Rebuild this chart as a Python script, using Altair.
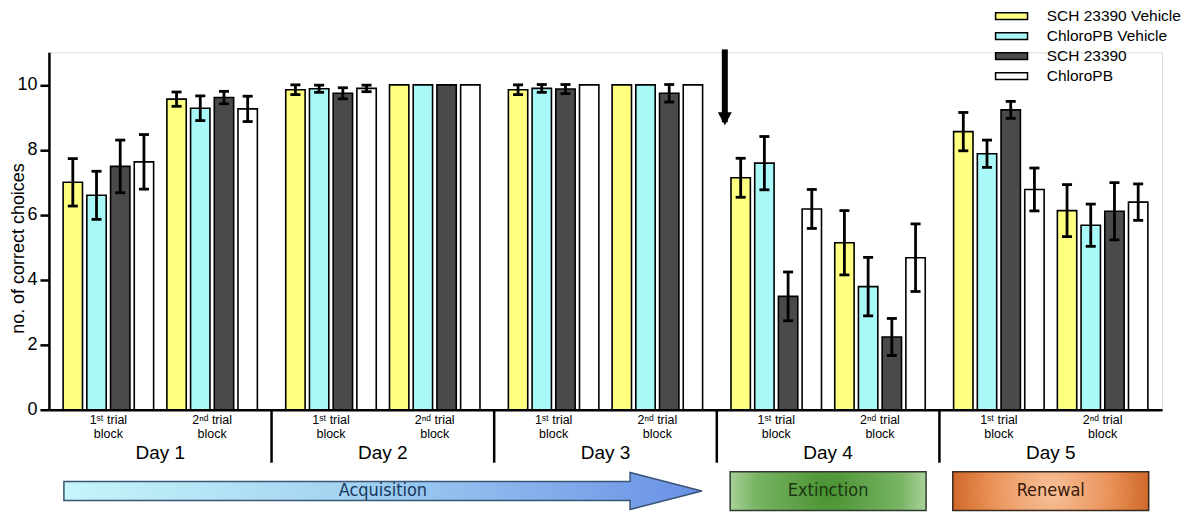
import altair as alt
import pandas as pd

# ---------------- data ----------------
days = ["Day 1", "Day 2", "Day 3", "Day 4", "Day 5"]
block_labels = ["1ˢᵗ trial\nblock", "2ⁿᵈ trial\nblock"]
treatments = ["SCH 23390 Vehicle", "ChloroPB Vehicle", "SCH 23390", "ChloroPB"]
colors = ["#ffff80", "#aaf9f9", "#4a4a4a", "#ffffff"]

# order: D1B1, D1B2, D2B1, D2B2, D3B1, D3B2, D4B1, D4B2, D5B1, D5B2
sch_veh_mean = [7.00, 9.56, 9.85, 10.0, 9.85, 10.0, 7.14, 5.14, 8.56, 6.13]
sch_veh_sem = [0.73, 0.22, 0.15, 0.0, 0.15, 0.0, 0.60, 0.99, 0.59, 0.80]
chl_veh_mean = [6.60, 9.28, 9.88, 10.0, 9.89, 10.0, 7.59, 3.79, 7.88, 5.68]
chl_veh_sem = [0.74, 0.38, 0.11, 0.0, 0.12, 0.0, 0.82, 0.90, 0.42, 0.65]
sch_mean = [7.49, 9.61, 9.74, 10.0, 9.87, 9.74, 3.49, 2.24, 9.23, 6.11]
sch_sem = [0.81, 0.19, 0.17, 0.0, 0.14, 0.27, 0.75, 0.57, 0.26, 0.88]
chl_mean = [7.63, 9.26, 9.89, 10.0, 10.0, 10.0, 6.18, 4.68, 6.78, 6.39]
chl_sem = [0.84, 0.39, 0.10, 0.0, 0.0, 0.0, 0.60, 1.04, 0.66, 0.56]

phases = ["Acquisition", "Extinction", "Renewal"]
phase_first_day = [0, 3, 4]
phase_last_day = [2, 3, 4]

y_title = "no. of correct choices"

# ---------------- layout constants (style) ----------------
BLOCK_OFF = 0.233
BAR_STEP = 0.1065
BAR_HALF = 0.0435
CAP_HALF = 0.0225
PHASE_PAD = 0.44
FONT = "Liberation Sans"
NARROW = "Liberation Sans Narrow, DejaVu Sans Condensed, sans-serif"

means = [sch_veh_mean, chl_veh_mean, sch_mean, chl_mean]
sems = [sch_veh_sem, chl_veh_sem, sch_sem, chl_sem]

rows = []
for d in range(len(days)):
    for b in range(2):
        g = d * 2 + b
        for t, name in enumerate(treatments):
            xc = d + (b - 0.5) * 2 * BLOCK_OFF + (t - 1.5) * BAR_STEP
            m = means[t][g]
            s = sems[t][g]
            rows.append(dict(day=days[d], treatment=name, xc=xc,
                             x0=xc - BAR_HALF, x1=xc + BAR_HALF,
                             cl=xc - CAP_HALF, cr=xc + CAP_HALF,
                             mean=m, sem=s, lo=m - s, hi=m + s, zero=0.0))
df = pd.DataFrame(rows)
df_err = df[df["sem"] > 0]

blk = pd.DataFrame([dict(x=d + (b - 0.5) * 2 * BLOCK_OFF, label=block_labels[b], zero=0.0)
                    for d in range(len(days)) for b in range(2)])
dayd = pd.DataFrame([dict(x=float(d), label=days[d], zero=0.0) for d in range(len(days))])
sep = pd.DataFrame([dict(x=d + 0.5, zero=0.0, low=-1.63) for d in range(len(days) - 1)])

ph = pd.DataFrame([dict(phase=p, xc=(f + l) / 2, x0=f - PHASE_PAD, x1=l + PHASE_PAD,
                        yc=-2.5, ytop=-1.905, ybot=-3.10)
                   for p, f, l in zip(phases, phase_first_day, phase_last_day)])

onset = pd.DataFrame([dict(x=phase_first_day[1] - 0.464, top=11.09, bot=8.85, head=8.96)])

# ---------------- scales / axes ----------------
xscale = alt.Scale(domain=[-0.5, 4.5], nice=False, zero=False)
yscale = alt.Scale(domain=[0, 11], nice=False, zero=False)
xaxis = alt.Axis(labels=False, ticks=False, grid=False, title=None,
                 domainWidth=2.5, domainColor="black")
yaxis = alt.Axis(values=[0, 2, 4, 6, 8, 10], format="d", grid=False,
                 tickSize=9, tickWidth=2.5, tickColor="black",
                 domainWidth=2.5, domainColor="black",
                 labelFontSize=18, labelPadding=3, labelColor="black", labelFont=FONT,
                 titleFontSize=18, titleFontWeight="normal", titleColor="black", titleFont=FONT,
                 titleAngle=270, titleX=-25, titleY=196, titleAlign="center",
                 titleBaseline="alphabetic")


def X(f):
    return alt.X(f, type="quantitative", scale=xscale, axis=xaxis, title=None)


def X2(f):
    return alt.X2(f)


def Y(f):
    return alt.Y(f, type="quantitative", scale=yscale, axis=yaxis, title=y_title)


legend = alt.Legend(title=None, orient="none", legendX=956.5, legendY=-44,
                    symbolType="M-4,-0.85H4V0.85H-4Z", symbolSize=64,
                    symbolStrokeColor="black", symbolStrokeWidth=1.5, symbolOpacity=1,
                    labelFontSize=15.5, labelFont=FONT, labelColor="black",
                    labelOffset=27.5, rowPadding=3, padding=0)

bars = alt.Chart(df).mark_bar(stroke="black", strokeWidth=1.6).encode(
    x=X("x0"), x2=X2("x1"), y=Y("mean"), y2=alt.Y2("zero"),
    fill=alt.Fill("treatment:N", scale=alt.Scale(domain=treatments, range=colors),
                  legend=legend),
)

err = alt.Chart(df_err).mark_rule(color="black", strokeWidth=2.8).encode(
    x=X("xc"), y=Y("lo"), y2=alt.Y2("hi"))
cap_hi = alt.Chart(df_err).mark_rule(color="black", strokeWidth=2.8).encode(
    x=X("cl"), x2=X2("cr"), y=Y("hi"))
cap_lo = alt.Chart(df_err).mark_rule(color="black", strokeWidth=2.8).encode(
    x=X("cl"), x2=X2("cr"), y=Y("lo"))

blk_text = alt.Chart(blk).mark_text(baseline="top", dy=4, fontSize=12.5, font=FONT,
                                    lineBreak="\n", lineHeight=14, color="black").encode(
    x=X("x"), y=Y("zero"), text="label:N")
day_text = alt.Chart(dayd).mark_text(baseline="middle", dy=43, fontSize=19, font=FONT,
                                     color="black").encode(
    x=X("x"), y=Y("zero"), text="label:N")
seps = alt.Chart(sep).mark_rule(color="black", strokeWidth=2.5).encode(
    x=X("x"), y=Y("zero"), y2=alt.Y2("low"))

# down arrow marking extinction onset
shaft = alt.Chart(onset).mark_rule(color="black", strokeWidth=6).encode(
    x=X("x"), y=Y("top"), y2=alt.Y2("bot"))
head = alt.Chart(onset).mark_point(shape="M-1,-0.93L1,-0.93L0,0.93Z", size=196,
                                   filled=True, color="black", opacity=1).encode(
    x=X("x"), y=Y("head"))

# phase graphics
acq_grad = alt.LinearGradient(gradient="linear", x1=0, y1=0, x2=1, y2=0, stops=[
    alt.GradientStop(offset=0, color="#c6f5fa"),
    alt.GradientStop(offset=0.45, color="#a2d3f1"),
    alt.GradientStop(offset=1, color="#6890e6")])
arrow_path = ("M-1,-0.0297L0.775,-0.0297L0.775,-0.058L1,0L0.775,0.058"
              "L0.775,0.0297L-1,0.0297Z")
acq = alt.Chart(ph[ph["phase"] == "Acquisition"]).mark_point(
    shape=arrow_path, size=408321, filled=True, fill=acq_grad, stroke="#3a5474",
    strokeWidth=1.5, opacity=1).encode(x=X("xc"), y=Y("yc"))

ext_grad = alt.RadialGradient(gradient="radial", x1=0.5, y1=0.5, r1=0, x2=0.5, y2=0.5, r2=0.62,
                              stops=[alt.GradientStop(offset=0, color="#48912f"),
                                     alt.GradientStop(offset=0.6, color="#78b464"),
                                     alt.GradientStop(offset=1, color="#d3eac7")])
ext = alt.Chart(ph[ph["phase"] == "Extinction"]).mark_rect(
    fill=ext_grad, stroke="#2e3a2e", strokeWidth=1.5).encode(
    x=X("x0"), x2=X2("x1"), y=Y("ytop"), y2=alt.Y2("ybot"))

ren_grad = alt.RadialGradient(gradient="radial", x1=0.5, y1=0.5, r1=0, x2=0.5, y2=0.5, r2=0.62,
                              stops=[alt.GradientStop(offset=0, color="#f7c29b"),
                                     alt.GradientStop(offset=0.5, color="#ea9157"),
                                     alt.GradientStop(offset=1, color="#bf500e")])
ren = alt.Chart(ph[ph["phase"] == "Renewal"]).mark_rect(
    fill=ren_grad, stroke="#3a2a1e", strokeWidth=1.5).encode(
    x=X("x0"), x2=X2("x1"), y=Y("ytop"), y2=alt.Y2("ybot"))

ph_text = alt.Chart(ph).mark_text(baseline="middle", fontSize=18, font=NARROW).encode(
    x=X("xc"), y=Y("yc"), text="phase:N",
    color=alt.Color("phase:N", scale=alt.Scale(domain=phases,
                                               range=["#17375e", "#1c3512", "#3b1a06"]),
                    legend=None))

chart = alt.layer(
    bars, err, cap_hi, cap_lo, blk_text, day_text, seps, shaft, head, acq, ext, ren, ph_text
).properties(
    width=1115, height=358, autosize="none",
    padding={"left": 41, "top": 44, "right": 30, "bottom": 109},
).configure_view(stroke=None).configure(font=FONT)

chart.save("out.html", embed_options={"renderer": "svg", "actions": False})
